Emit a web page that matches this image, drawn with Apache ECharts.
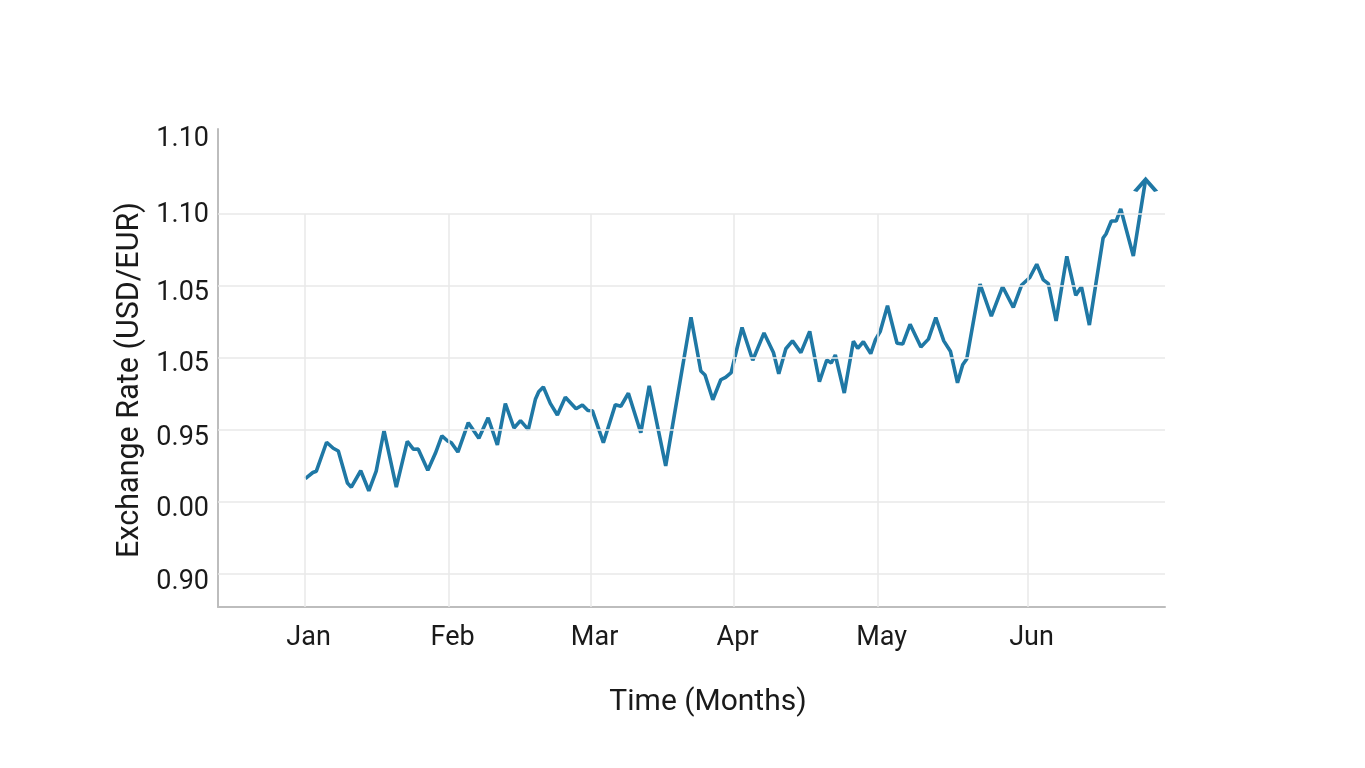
<!DOCTYPE html>
<html>
<head>
<meta charset="utf-8">
<title>Exchange Rate</title>
<script src="https://cdn.jsdelivr.net/npm/echarts@6/dist/echarts.min.js"></script>
<style>
  html, body { margin: 0; padding: 0; background: #fff; }
  #main { width: 1365px; height: 768px; }
</style>
</head>
<body>
<div id="main"></div>
<script>
// month labels and where their gridlines sit on the time axis
const months = ['Jan', 'Feb', 'Mar', 'Apr', 'May', 'Jun'];
const monthTicks = [0, 0.996, 1.978, 2.967, 3.963, 5.0];

// y tick labels as printed (bottom to top) and their tick values
const yTickLabels = ['0.90', '0.00', '0.95', '1.05', '1.05', '1.10', '1.10'];
const yTicks = [0.894, 0.945, 0.994, 1.046, 1.095, 1.149, 1.202];
const yGrid = [0.900, 0.947, 0.996, 1.049, 1.096, 1.150];

// time in months since start of Jan
const timeMonths = [
  0.002, 0.054, 0.078, 0.149, 0.195, 0.230, 0.293, 0.320, 0.385, 0.441,
  0.492, 0.546, 0.631, 0.707, 0.750, 0.783, 0.849, 0.902, 0.946, 0.988,
  1.013, 1.057, 1.129, 1.202, 1.266, 1.330, 1.385, 1.445, 1.490, 1.544,
  1.593, 1.616, 1.648, 1.696, 1.745, 1.800, 1.874, 1.918, 1.956, 1.987,
  2.063, 2.146, 2.184, 2.236, 2.322, 2.380, 2.494, 2.669, 2.737, 2.766,
  2.820, 2.875, 2.908, 2.947, 3.022, 3.096, 3.174, 3.239, 3.276, 3.325,
  3.371, 3.429, 3.490, 3.557, 3.608, 3.639, 3.667, 3.729, 3.792, 3.822,
  3.861, 3.912, 3.945, 3.977, 4.028, 4.094, 4.133, 4.184, 4.259, 4.311,
  4.362, 4.417, 4.463, 4.512, 4.548, 4.576, 4.668, 4.746, 4.824, 4.898,
  4.956, 5.012, 5.060, 5.106, 5.140, 5.194, 5.268, 5.330, 5.369, 5.424,
  5.519, 5.539, 5.576, 5.609, 5.641, 5.728, 5.813
];

// USD/EUR rate
const rates = [
  0.9663, 0.9705, 0.9714, 0.9915, 0.9873, 0.9854, 0.9632, 0.9603, 0.9717, 0.9578,
  0.9714, 0.9995, 0.9603, 0.9921, 0.9866, 0.9867, 0.9720, 0.9840, 0.9960, 0.9922,
  0.9910, 0.9847, 1.0051, 0.9942, 1.0085, 0.9896, 1.0183, 1.0014, 1.0065, 1.0003,
  1.0213, 1.0266, 1.0299, 1.0185, 1.0104, 1.0227, 1.0147, 1.0174, 1.0135, 1.0134,
  0.9912, 1.0176, 1.0165, 1.0255, 0.9981, 1.0306, 0.9751, 1.0783, 1.0410, 1.0382,
  1.0210, 1.0349, 1.0366, 1.0399, 1.0712, 1.0484, 1.0674, 1.0538, 1.0391, 1.0564,
  1.0619, 1.0537, 1.0685, 1.0335, 1.0486, 1.0465, 1.0521, 1.0257, 1.0616, 1.0567,
  1.0613, 1.0530, 1.0628, 1.0683, 1.0863, 1.0602, 1.0597, 1.0734, 1.0576, 1.0631,
  1.0780, 1.0619, 1.0547, 1.0328, 1.0453, 1.0493, 1.1013, 1.0790, 1.0995, 1.0851,
  1.1007, 1.1059, 1.1151, 1.1042, 1.1016, 1.0758, 1.1206, 1.0935, 1.0995, 1.0729,
  1.1333, 1.1361, 1.1451, 1.1451, 1.1535, 1.1208, 1.1740
];

const lineColor = '#1f78a5';
const gridColor = '#e9e9e9';
const textColor = '#1a1a1a';

const xMin = -0.602, xMax = 5.947;
const yMin = 0.8771, yMax = 1.209;

function nearestIndex(arr, v) {
  let best = 0;
  for (let i = 1; i < arr.length; i++) {
    if (Math.abs(arr[i] - v) < Math.abs(arr[best] - v)) best = i;
  }
  return best;
}

const lineData = timeMonths.map(function (t, i) {
  const item = { value: [t, rates[i]] };
  if (i === timeMonths.length - 1) {
    // arrow head at the end of the line
    item.symbol = 'path://M0,12L10,0L20,12';
    item.symbolSize = [21, 12];
    item.symbolOffset = [0, 6];
    item.itemStyle = { color: 'none', borderColor: lineColor, borderWidth: 3.5 };
  }
  return item;
});

const gridLines = [];
yGrid.forEach(function (v) { gridLines.push({ yAxis: v }); });
monthTicks.forEach(function (v) {
  gridLines.push([{ coord: [v, yMin] }, { coord: [v, yGrid[yGrid.length - 1]] }]);
});

var chart = echarts.init(document.getElementById('main'));

var option = {
  animation: false,
  backgroundColor: '#ffffff',
  textStyle: { fontFamily: 'Roboto' },
  grid: { left: 218, right: 200, top: 129, bottom: 161 },
  xAxis: {
    type: 'value',
    min: xMin,
    max: xMax,
    name: 'Time (Months)',
    nameLocation: 'middle',
    nameGap: 80,
    nameTextStyle: { fontSize: 30, color: textColor, fontFamily: 'Roboto', padding: [0, 0, 0, 33] },
    axisLine: { show: true, onZero: false, lineStyle: { color: '#bdbdbd', width: 2 } },
    axisTick: { show: false },
    splitLine: { show: false },
    axisLabel: {
      customValues: monthTicks,
      fontSize: 27,
      color: textColor,
      margin: 18,
      padding: [0, 0, 0, 7],
      formatter: function (v) { return months[nearestIndex(monthTicks, v)]; }
    }
  },
  yAxis: {
    type: 'value',
    min: yMin,
    max: yMax,
    name: 'Exchange Rate (USD/EUR)',
    nameLocation: 'middle',
    nameGap: 59,
    nameTextStyle: { fontSize: 30.5, color: textColor, fontFamily: 'Roboto', padding: [0, 24, 0, 0] },
    axisLine: { show: true, onZero: false, lineStyle: { color: '#bdbdbd', width: 2 } },
    axisTick: { show: false },
    splitLine: { show: false },
    axisLabel: {
      customValues: yTicks,
      fontSize: 27,
      color: textColor,
      margin: 9,
      padding: [8, 0, 0, 0],
      formatter: function (v) { return yTickLabels[nearestIndex(yTicks, v)]; }
    }
  },
  series: [
    {
      type: 'line',
      data: [],
      silent: true,
      z: 1,
      markLine: {
        silent: true,
        symbol: 'none',
        label: { show: false },
        lineStyle: { color: gridColor, width: 1.5, type: 'solid' },
        data: gridLines
      }
    },
    {
      type: 'line',
      z: 3,
      data: lineData,
      symbol: 'none',
      showSymbol: true,
      lineStyle: { color: lineColor, width: 3.6 },
      itemStyle: { color: lineColor },
      emphasis: { disabled: true }
    }
  ]
};

chart.setOption(option);
</script>
</body>
</html>
